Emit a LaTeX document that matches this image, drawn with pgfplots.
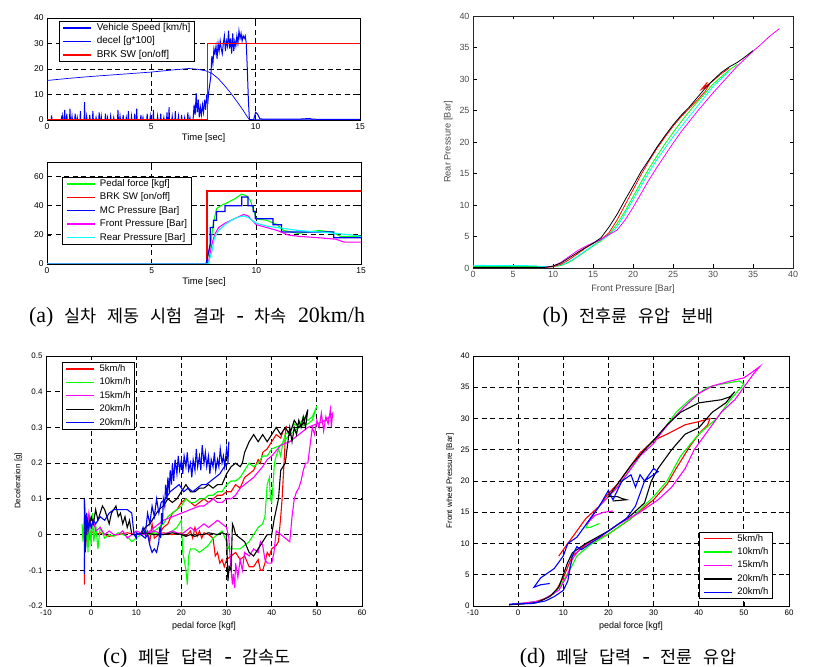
\documentclass[border=0pt]{standalone}
\usepackage{fontspec}
\setmainfont{Liberation Sans}
\newfontfamily\cjk{Noto Sans CJK KR}
\newfontfamily\capserif{Liberation Serif}
\usepackage{pgfplots}
\pgfplotsset{compat=1.18}
\definecolor{mred}{rgb}{1,0,0}
\definecolor{mgreen}{rgb}{0,1,0}
\definecolor{mblue}{rgb}{0,0,1}
\definecolor{mmag}{rgb}{1,0,1}
\definecolor{mcyan}{rgb}{0,1,1}
\pgfplotsset{
  mat/.style={
    scale only axis,
    axis line style={black, line width=0.8pt},
    tick align=inside,
    tick style={black, line width=0.7pt},
    major tick length=3.5bp,
    ticklabel style={font=\fontsize{8.5}{10}\selectfont},
    label style={font=\fontsize{9.5}{11}\selectfont},
    /pgf/number format/assume math mode=true,
    grid style={black, line width=0.8pt, dash pattern=on 5bp off 3.5bp},
    every axis plot/.append style={line width=1.1pt},
    legend cell align=left,
    legend image code/.code={\draw[#1, line width=1.4pt] (0bp,0bp) -- (28bp,0bp);},
    legend style={draw=black, line width=0.8pt, inner xsep=3.5bp, inner ysep=1.5bp,
      nodes={inner sep=0.6bp, text height=7bp, text depth=2bp},
      row sep=3.2bp, /tikz/every odd column/.append style={column sep=4bp}},
    clip=true,
  }
}
\newcommand{\K}[1]{{\fontsize{17.5}{20}\cjk #1}}
\newcommand{\G}{\hspace{11bp}}
\begin{document}
\begin{tikzpicture}
\useasboundingbox (0,0) rectangle (815bp,667bp);

% ---------- (a) top ----------
\begin{axis}[mat, at={(47bp,547bp)}, anchor=south west, width=313bp, height=102bp,
  xmin=0, xmax=15, ymin=0, ymax=40, xtick={0,5,10,15}, ytick={0,10,20,30,40},
  grid=major, xlabel={Time [sec]}, xlabel style={yshift=3bp},
  legend style={at={(0.038,0.97)}, anchor=north west, font=\fontsize{10}{11}\selectfont}]
\addplot[mblue, line width=0.7pt] coordinates {(0,15.5) (1,16.3) (2,17.0) (3,17.6) (4,18.2) (5,18.8) (6,19.6) (6.8,20.2) (7.2,19.9) (7.6,19.3) (7.9,18.3) (8.2,16.3) (8.5,13.6) (8.8,10.6) (9.1,7.3) (9.4,3.8) (9.6,1.2) (9.7,0.2) (10,0.1) (15,0.1)};
\addlegendentry{Vehicle Speed [km/h]}
\addplot[mblue, line width=1pt] coordinates {(0,0) (0.2,0) (0.22,1.8) (0.24,0) (0.68,0) (0.7,1.0) (0.73,0) (0.75,1.5) (0.77,0) (0.83,0) (0.85,4.0) (0.87,0) (0.93,0) (0.95,2.5) (0.97,0) (1.08,0) (1.1,4.5) (1.12,0) (1.18,0) (1.2,1.5) (1.22,0) (1.33,0) (1.35,2.5) (1.37,0) (1.43,0) (1.45,1.0) (1.47,0) (1.58,0) (1.6,3.5) (1.62,0) (1.78,0) (1.8,7.0) (1.82,0) (1.88,0) (1.9,1.5) (1.92,0) (2.03,0) (2.05,2.0) (2.07,0) (2.18,0) (2.2,3.5) (2.22,0) (2.33,0) (2.35,1.0) (2.37,0) (2.48,0) (2.5,3.0) (2.52,0) (2.58,0) (2.6,1.5) (2.62,0) (2.78,0) (2.8,2.5) (2.82,0) (2.88,0) (2.9,1.0) (2.92,0) (3.03,0) (3.05,1.5) (3.07,0) (3.18,0) (3.2,1.0) (3.22,0) (3.38,0) (3.4,4.0) (3.42,0) (3.48,0) (3.5,1.5) (3.52,0) (3.63,0) (3.65,2.0) (3.67,0) (3.78,0) (3.8,1.0) (3.82,0) (3.88,0) (3.9,3.5) (3.92,0) (4.03,0) (4.05,1.5) (4.07,0) (4.18,0) (4.2,2.5) (4.22,0) (4.28,0) (4.3,4.5) (4.32,0) (4.48,0) (4.5,2.0) (4.52,0) (4.58,0) (4.6,1.0) (4.62,0) (4.78,0) (4.8,2.5) (4.82,0) (4.93,0) (4.95,1.5) (4.97,0) (5.08,0) (5.1,4.0) (5.12,0) (5.28,0) (5.3,1.5) (5.32,0) (5.43,0) (5.45,2.5) (5.47,0) (5.58,0) (5.6,1.0) (5.62,0) (5.73,0) (5.75,3.0) (5.77,0) (5.83,0) (5.85,5.0) (5.87,0) (5.98,0) (6.0,1.5) (6.02,0) (6.13,0) (6.15,3.5) (6.17,0) (6.28,0) (6.3,1.5) (6.32,0) (6.43,0) (6.45,2.0) (6.47,0) (6.58,0) (6.6,1.0) (6.62,0) (6.73,0) (6.75,3.0) (6.77,0) (6.83,0) (6.85,1.0) (6.87,0) (7.0,0) (7.05,6) (7.1,2) (7.15,10.5) (7.2,3) (7.25,8) (7.3,1) (7.35,5) (7.4,2) (7.45,6) (7.5,3) (7.55,8) (7.6,4) (7.65,10) (7.7,6) (7.75,11) (7.8,14) (7.85,17) (7.9,25) (7.95,22) (8.0,28) (8.05,26) (8.1,29) (8.15,24) (8.2,30) (8.25,27) (8.3,31) (8.35,28) (8.4,26) (8.45,30) (8.5,33) (8.55,27) (8.6,31) (8.65,29) (8.7,35) (8.75,28) (8.8,32) (8.85,26) (8.9,34) (8.95,27) (9.0,31) (9.05,29) (9.1,33) (9.15,30) (9.2,35) (9.25,32) (9.3,34) (9.35,31) (9.4,33) (9.45,32) (9.5,33) (9.55,30) (9.6,20) (9.65,8) (9.7,0) (9.9,0) (10.0,3) (10.1,2.2) (10.2,0.5) (10.4,0.3) (12,0.3) (12.6,0.6) (12.7,0.3) (15,0.2)};
\addlegendentry{decel [g*100]}
\addplot[mred, line width=1.4pt] coordinates {(0,0) (7.7,0) (7.7,30) (15,30)};
\addlegendentry{BRK SW [on/off]}
\end{axis}

% ---------- (a) bottom ----------
\begin{axis}[mat, at={(47bp,403bp)}, anchor=south west, width=314bp, height=102bp,
  xmin=0, xmax=15, ymin=0, ymax=70, xtick={0,5,10,15}, ytick={0,20,40,60},
  grid=major, xlabel={Time [sec]}, xlabel style={yshift=3bp},
  legend style={at={(0.048,0.853)}, anchor=north west, font=\fontsize{9.7}{11}\selectfont}]
\addplot[mgreen] coordinates {(0,0) (7.6,0) (7.8,12) (7.95,28) (8.1,38) (8.3,40) (8.6,42) (9.0,45) (9.3,48) (9.5,47) (9.7,44) (9.8,40) (10.0,31) (10.5,30) (11.0,27) (11.3,23) (12.0,21) (12.5,22) (13.0,23) (13.6,22) (14.0,19) (15,19)};
\addlegendentry{Pedal force [kgf]}
\addplot[mred, line width=1.4pt] coordinates {(0,0) (7.65,0) (7.65,50) (15,50)};
\addlegendentry{BRK SW [on/off]}
\addplot[mblue, line width=1.2pt] coordinates {(0,0) (7.6,0) (7.8,14) (7.8,25) (7.95,25) (7.95,30) (8.1,30) (8.1,36) (8.5,36) (8.5,40) (9.3,40) (9.3,46) (9.6,46) (9.6,40) (9.85,40) (9.85,36) (9.95,36) (9.95,31) (10.8,31) (10.8,27) (11.2,27) (11.2,22) (13.7,22) (13.7,18) (15,18)};
\addlegendentry{MC Pressure [Bar]}
\addplot[mmag] coordinates {(0,0) (7.7,0) (7.85,12) (8.0,20) (8.2,25) (8.5,28) (8.8,30) (9.1,32) (9.4,34) (9.6,33) (9.8,30) (10.0,27) (10.5,25) (11.0,23) (11.5,20) (12.0,19) (13.0,18) (13.8,17) (14.2,15) (15,15)};
\addlegendentry{Front Pressure [Bar]}
\addplot[mcyan] coordinates {(0,0) (7.7,0) (7.9,10) (8.0,18) (8.2,23) (8.5,27) (8.8,30) (9.1,32) (9.4,33) (9.6,32) (9.8,30) (10.0,28) (10.5,26) (11.0,25) (12.0,23) (13.0,22) (13.8,21) (14.5,20) (15,19)};
\addlegendentry{Rear Pressure [Bar]}
\end{axis}

% ---------- (b) ----------
\begin{axis}[mat, at={(473bp,399bp)}, anchor=south west, width=320bp, height=252bp,
  xmin=0, xmax=40, ymin=0, ymax=40, xtick={0,5,...,40}, ytick={0,5,...,40},
  axis line style={black!85, line width=0.8pt},
  ticklabel style={font=\fontsize{9}{10}\selectfont, text=black!70},
  label style={font=\fontsize{9.3}{11}\selectfont, text=black!70},
  xlabel={Front Pressure [Bar]}, ylabel={Rear Pressure [Bar]},
  every axis plot/.append style={line width=0.8pt}]
\addplot[mcyan, line width=2pt] coordinates {(0,0.25) (1,0.35) (2,0.3) (4,0.3) (6,0.3) (8,0.25)};
\addplot[mgreen] coordinates {(0,0.2) (8,0.2) (10,0.2) (11,0.4) (12,0.9) (13,1.7) (14,2.6) (15,3.5) (16,4.3) (17,5.3) (18,7.0) (19,9.0) (20,11.3) (21,13.6) (22,15.8) (23,17.8) (24,19.7) (25,21.5) (26,23.2) (27,24.8) (28,26.3) (29,27.7) (30,29.2) (31,30.3) (32,31.4) (33,32.3)};
\addplot[mcyan] coordinates {(8,0.25) (10,0.2) (11,0.5) (12,1.0) (13,1.8) (14,2.7) (15,3.6) (16,4.4) (17,5.2) (18,6.5) (19,8.6) (20,10.8) (21,13.0) (22,15.2) (23,17.2) (24,19.0) (25,20.8) (26,22.4) (27,24.0) (28,25.6) (29,27.2) (30,28.8) (31,30.0) (32,31.2)};
\addplot[mred] coordinates {(9,0.1) (10,0.2) (11,0.6) (12,1.3) (13,2.2) (14,3.1) (15,3.9) (16,4.5) (17,5.6) (18,7.6) (19,10.0) (20,12.4) (21,14.8) (22,17.0) (23,19.0) (24,20.8) (25,22.5) (26,24.0) (27,25.3) (28,26.6) (29,28.0) (29.5,29.0) (28.5,28.3) (29.3,29.5) (28.8,28.6) (30,29.7) (31,30.8) (32,31.7)};
\addplot[mmag] coordinates {(9,0.1) (10,0.3) (11,0.9) (12,1.8) (13,2.7) (14,3.4) (15,4.0) (16,4.6) (17,5.3) (18,6.0) (19,7.6) (20,9.6) (21,11.8) (22,14.0) (23,16.0) (24,17.9) (25,19.8) (26,21.6) (27,23.2) (28,24.8) (29,26.3) (30,27.8) (31,29.2) (32,30.6) (33,32.0) (34,33.2) (35,34.4) (36,35.5) (37,36.7) (38.3,38.0)};
\addplot[black] coordinates {(0,0.1) (5,0.1) (9,0.1) (10,0.3) (11,0.8) (12,1.6) (13,2.4) (14,3.2) (15,3.9) (16,4.8) (17,6.5) (18,8.5) (19,10.8) (20,13.0) (21,15.3) (22,17.2) (23,19.2) (24,21.0) (25,22.7) (26,24.2) (27,25.5) (28,27.0) (29,28.5) (30,29.8) (31,31.0) (32,31.9) (33,32.6) (34,33.5) (35,34.5)};
\end{axis}

% ---------- (c) ----------
\begin{axis}[mat, at={(46bp,61bp)}, anchor=south west, width=316bp, height=250bp,
  xmin=-10, xmax=60, ymin=-0.2, ymax=0.5, xtick={-10,0,...,60}, ytick={-0.2,-0.1,...,0.5},
  yticklabel style={/pgf/number format/.cd, fixed, precision=1},
  grid=major, xlabel={pedal force [kgf]}, ylabel={Deceleration [g]},
  ticklabel style={font=\fontsize{8}{9}\selectfont},
  xlabel style={font=\fontsize{9}{10}\selectfont},
  ylabel style={font=\fontsize{8}{9}\selectfont},
  legend style={at={(0.05,0.976)}, anchor=north west, font=\fontsize{9.5}{10}\selectfont}]
\addplot[mred] coordinates {(-1.5,-0.14) (-1.4,0.05) (-1.2,-0.03) (-0.8,0.03) (-0.4,-0.01) (0,0.01) (1,0.0) (2,0.005) (4,-0.005) (6,0.0) (8,0.005) (10,0.0) (12,0.005) (14,0.0) (16,0.005) (18,0.0) (20,0.005) (21,-0.005) (22,0.01) (22.5,-0.01) (23,0.02) (23.5,-0.005) (24,0.01) (24.5,-0.01) (25,0.005) (26,0.0) (27,-0.01) (27.5,-0.06) (28,-0.05) (28.5,-0.08) (29,-0.07) (29.5,-0.09) (30,-0.07) (31,-0.06) (32,-0.05) (33,-0.07) (34,-0.06) (35,-0.09) (36,-0.09) (37,-0.07) (37.5,-0.1) (38,-0.1) (38.5,-0.08) (39,-0.05) (39.5,-0.06) (40,-0.04) (41,-0.03) (41.5,-0.02) (42,0.05) (42.3,0.1) (42.6,0.17) (42.9,0.24) (43,0.28) (43.2,0.3) (42.5,0.29) (42,0.27) (41,0.28) (40,0.26) (39,0.24) (38,0.23) (37.5,0.2) (37,0.21) (36,0.18) (35,0.17) (34,0.16) (33,0.13) (32,0.14) (31,0.12) (30,0.12) (29,0.11) (28,0.11) (27,0.1) (26,0.09) (25,0.1) (24,0.09) (23,0.08) (22,0.09) (21,0.1) (20,0.09) (19,0.07) (18,0.06) (17,0.03) (16,0.02) (15,0.0) (14,-0.01) (13.5,0.03) (13,-0.02) (12.5,0.01) (12,0.0)};
\addlegendentry{5km/h}
\addplot[mgreen] coordinates {(-2,0.03) (-1.8,-0.02) (-1.5,0.05) (-1.2,-0.04) (-1,0.06) (-0.7,-0.05) (-0.4,0.04) (0,-0.03) (0.3,0.06) (0.6,-0.02) (1,0.03) (1.5,-0.04) (2,0.02) (3,-0.01) (4,0.0) (5,-0.005) (6,0.005) (7,0.0) (8,-0.005) (9,-0.02) (10,-0.01) (11,0.0) (12,0.01) (13,0.0) (14,0.005) (15,0.0) (16,0.0) (17,0.005) (18,0.01) (19,0.02) (19.5,0.03) (20,0.04) (20.3,-0.05) (20.6,-0.07) (21,-0.1) (21.3,-0.14) (21.6,-0.06) (22,-0.04) (23,-0.04) (24,-0.05) (25,-0.04) (26,-0.03) (26.5,-0.02) (27,-0.01) (28,0.0) (29,0.01) (30,-0.02) (30.5,-0.04) (31,-0.04) (32,-0.04) (33,-0.04) (34,-0.03) (35,-0.02) (36,0.0) (37,0.02) (38,0.03) (38.5,0.05) (39,0.14) (39.5,0.16) (39.7,0.1) (40,0.09) (40.3,0.14) (40.6,0.2) (41,0.22) (41.5,0.24) (42,0.22) (42.5,0.26) (43,0.28) (44,0.29) (45,0.31) (46,0.3) (47,0.33) (48,0.32) (49,0.33) (50,0.36) (49,0.32) (48,0.31) (46,0.3) (44,0.28) (42,0.25) (40,0.24) (39,0.22) (38,0.22) (37,0.2) (36,0.19) (35,0.2) (34,0.18) (33,0.16) (32,0.15) (31,0.15) (30,0.14) (29.5,0.13) (29,0.12) (28,0.12) (27,0.11) (26,0.11) (25,0.1) (24,0.1) (23,0.09) (22,0.09) (21,0.1) (20,0.08) (19,0.07) (18,0.06) (17,0.05) (16,0.03) (15,0.02) (14,0.01) (13,0.0) (12,0.0)};
\addlegendentry{10km/h}
\addplot[mmag] coordinates {(-1,0.0) (-0.5,0.06) (0,0.02) (0.5,0.04) (1,0.01) (2,0.02) (3,0.0) (4,0.01) (5,0.0) (6,0.0) (7,0.01) (8,-0.01) (9,0.0) (10,0.01) (12,0.0) (14,0.01) (16,0.0) (18,0.01) (20,0.0) (21,0.01) (22,0.02) (23,0.01) (24,0.02) (25,0.03) (26,0.02) (27,0.03) (28,0.04) (29,0.03) (30,0.02) (30.5,-0.01) (31,-0.1) (31.3,-0.14) (31.5,-0.11) (31.8,-0.15) (32,-0.08) (32.5,-0.12) (33,-0.07) (33.5,-0.1) (34,-0.05) (35,-0.06) (36,-0.04) (37,-0.05) (37.5,-0.02) (38,-0.03) (38.5,-0.07) (39,-0.08) (40,-0.08) (40.5,-0.05) (41,0.01) (42,0.0) (43,-0.01) (44,-0.02) (44.5,0.05) (45,0.1) (45.5,0.12) (46,0.13) (46.5,0.15) (47,0.18) (47.5,0.2) (48,0.2) (48.5,0.25) (49,0.3) (49.5,0.28) (50,0.32) (50.5,0.3) (51,0.34) (51.5,0.29) (52,0.33) (52.5,0.31) (53,0.35) (53.2,0.3) (53.5,0.34) (52,0.32) (50,0.31) (48,0.3) (46,0.28) (44,0.26) (42,0.25) (40,0.22) (39,0.21) (38,0.19) (36,0.16) (35,0.15) (34,0.14) (33,0.13) (32,0.11) (31,0.1) (30,0.1) (29,0.09) (28,0.09) (27,0.1) (26,0.09) (25,0.08) (24,0.08) (22,0.07) (20,0.06) (18,0.05) (16,0.04) (14,0.02) (12,0.0) (10,0.0)};
\addlegendentry{15km/h}
\addplot[black] coordinates {(-1.5,0.1) (-1.3,-0.05) (-1,0.05) (-0.5,0.02) (0,0.05) (0.5,0.03) (1,0.07) (1.5,0.04) (2,0.06) (2.5,0.08) (3,0.07) (3.5,0.05) (4,0.03) (4.5,0.06) (5,0.07) (5.5,0.08) (6,0.05) (6.5,0.06) (7,0.03) (7.5,0.05) (8,0.02) (8.5,0.04) (9,0.0) (10,0.0) (12,0.005) (14,0.0) (16,0.0) (18,0.005) (20,0.0) (21,-0.005) (22,0.0) (23,-0.005) (24,0.0) (25,0.0) (26,0.005) (28,0.0) (29,0.005) (30,0.0) (30.3,-0.13) (30.6,-0.09) (31,-0.1) (31.3,0.03) (31.6,0.02) (32,0.0) (33,-0.01) (34,-0.02) (35,-0.05) (36,-0.06) (37,-0.04) (38,-0.02) (39,0.0) (40,0.0) (40.5,0.04) (41,0.07) (41.5,0.1) (42,0.18) (43,0.2) (43.5,0.25) (44,0.3) (44.5,0.26) (45,0.3) (45.5,0.28) (46,0.32) (46.5,0.3) (47,0.33) (47.5,0.3) (48,0.35) (47,0.31) (46,0.3) (45,0.32) (44,0.28) (43,0.3) (42,0.28) (41,0.3) (40,0.28) (39,0.26) (38,0.28) (37,0.26) (36,0.28) (35,0.26) (34,0.23) (33.5,0.2) (33,0.19) (32,0.2) (31,0.19) (30,0.17) (29,0.14) (28,0.14) (27,0.13) (26,0.14) (25,0.13) (24,0.13) (23,0.12) (22,0.12) (21,0.14) (20,0.12) (19,0.1) (18,0.09) (17,0.1) (16,0.08) (15,0.07) (14,0.05) (13,0.03) (12,0.02) (11,0.0)};
\addlegendentry{20km/h}
\addplot[mblue] coordinates {(-1.5,-0.11) (-1.5,0.1) (-1.2,0.0) (-1,0.06) (-0.7,0.01) (-0.4,0.04) (0,0.02) (0.5,0.04) (1,0.03) (2,0.05) (3,0.04) (4,0.06) (5,0.07) (6,0.07) (7,0.07) (8,0.07) (9,0.06) (9.5,0.0) (10,-0.01) (10,0.005) (11,0.0) (12,-0.01) (12.5,0.0) (13,-0.03) (13.5,-0.05) (14,-0.04) (14.5,-0.05) (15,-0.02) (15.2,0.02) (15.4,-0.01) (15.6,0.06) (15.8,0.03) (16,0.1) (16.3,0.08) (16.5,0.14) (16.8,0.1) (17,0.16) (17.3,0.12) (17.5,0.18) (17.8,0.14) (18,0.2) (18.3,0.15) (18.6,0.21) (19,0.17) (19.3,0.22) (19.6,0.18) (20,0.21) (20.3,0.17) (20.6,0.22) (21,0.19) (21.3,0.23) (21.6,0.18) (22,0.2) (22.3,0.16) (22.6,0.21) (23,0.18) (23.3,0.24) (23.6,0.19) (24,0.22) (24.3,0.18) (24.6,0.25) (25,0.2) (25.3,0.23) (25.6,0.19) (26,0.22) (26.3,0.17) (26.6,0.21) (27,0.19) (27.3,0.23) (27.6,0.18) (28,0.21) (28.3,0.19) (28.6,0.24) (29,0.2) (29.3,0.22) (29.6,0.19) (30,0.24) (30.3,0.21) (30.5,0.26) (30.3,0.2) (29.5,0.19) (28.5,0.17) (27.5,0.16) (26.5,0.15) (25.5,0.14) (24.5,0.14) (23.5,0.13) (22.5,0.12) (21.5,0.13) (20.5,0.12) (19.5,0.14) (18.5,0.13) (17.5,0.12) (16.5,0.1) (15.5,0.09) (15,0.06) (14.5,0.1) (14,0.05) (13.5,0.08) (13,0.03) (12.5,0.06) (12,0.0) (11.5,0.02) (11,0.0)};
\addlegendentry{20km/h}
\end{axis}

% ---------- (d) ----------
\begin{axis}[mat, at={(473bp,61bp)}, anchor=south west, width=316bp, height=250bp,
  xmin=-10, xmax=60, ymin=0, ymax=40, xtick={-10,0,...,60}, ytick={0,5,...,40},
  grid=major, xlabel={pedal force [kgf]}, ylabel={Front wheel Pressure [Bar]},
  ticklabel style={font=\fontsize{8}{9}\selectfont},
  xlabel style={font=\fontsize{9}{10}\selectfont},
  ylabel style={font=\fontsize{8}{9}\selectfont},
  legend style={at={(0.949,0.027)}, anchor=south east, font=\fontsize{9.5}{10}\selectfont}]
\addplot[mred] coordinates {(-2,0.2) (3,0.5) (6,1.2) (8,2) (10,4.5) (12,8) (15,9.8) (20,11.5) (25,14) (30,17) (33,19.5) (35,22) (38,25.5) (40,27.5) (42,29) (42.5,30) (40,29.5) (37,29) (33,27.5) (30,26.5) (27,24.5) (25,22.5) (23,20.5) (22,19.5) (20,18) (18,16) (15,14) (12,11) (9,8)};
\addlegendentry{5km/h}
\addplot[mgreen] coordinates {(-2,0.2) (5,0.8) (8,2) (10,4) (12,6.5) (13,8) (16,9.8) (20,11.5) (25,14) (30,17.5) (33,20) (36,24) (40,27.5) (44,30) (47,33) (50,35.5) (49,36) (45,35.5) (42,35) (38,33) (35,31) (32,28) (30,26.5) (28,25) (26,23) (24,21) (22,19) (20,17.5) (18,16) (16,14) (15,12.5) (16,12.6) (18,13.2)};
\addlegendentry{10km/h}
\addplot[mmag] coordinates {(-2,0.2) (5,0.8) (9,2.5) (11,5) (12,7.5) (14,9.5) (18,11) (22,13) (27,15) (31,17) (34,19) (37,22) (39,25) (42,28) (45,31) (48,33) (50,35) (52,37) (53.5,38.3) (52,37.5) (50,36.5) (47,36) (43,35.2) (40,34) (37,32) (35,30.5) (32,28) (30,26) (27,24) (25,22) (22,19) (20,17.5) (18,16) (16,14) (15,13) (17,14.5) (19,15) (21,15.2)};
\addlegendentry{15km/h}
\addplot[black] coordinates {(-2,0.2) (4,0.5) (7,1.5) (9,3) (11,7) (12,8.5) (15,10) (20,12) (25,14.5) (28,16.5) (29.5,20) (31,22) (34,25) (37,27.5) (40,28.5) (43,31) (46,32.5) (48,34.3) (47,33.5) (45,33) (40,32.5) (36,31) (33,29) (30,26.5) (28,25) (25,22.5) (22,19.5) (20,17.5) (22,17.5) (23,17.2) (24,17) (21,16.8)};
\addlegendentry{20km/h}
\addplot[mblue] coordinates {(-2,0.3) (3,0.4) (6,0.8) (8,1.5) (10,2.5) (11,4) (12,8) (13,9.5) (14,9) (16,10) (20,12) (24,14) (26,16) (27,18) (28,20) (30,22) (31,21.5) (29,20.5) (28,20) (27,21) (26,19) (25,21) (23,20) (21,17) (20,18.5) (18,16) (16,14) (13,11) (11,10) (10,8) (8,6) (5,4.5) (4,3.5) (3.5,3) (5,3.4) (7,3.6)};
\addlegendentry{20km/h}
\end{axis}

% ---------- captions ----------
\node[font=\fontsize{22}{24}\capserif, inner sep=0pt] at (197bp,350bp) {(a)\G\K{실차}\G\K{제동}\G\K{시험}\G\K{결과}\G-\G\K{차속}\G20km/h};
\node[font=\fontsize{22}{24}\capserif, inner sep=0pt] at (628bp,350bp) {(b)\G\K{전후륜}\G\K{유압}\G\K{분배}};
\node[font=\fontsize{22}{24}\capserif, inner sep=0pt] at (197bp,9bp) {(c)\G\K{페달}\G\K{답력}\G-\G\K{감속도}};
\node[font=\fontsize{22}{24}\capserif, inner sep=0pt] at (628bp,9bp) {(d)\G\K{페달}\G\K{답력}\G-\G\K{전륜}\G\K{유압}};
\end{tikzpicture}
\end{document}
